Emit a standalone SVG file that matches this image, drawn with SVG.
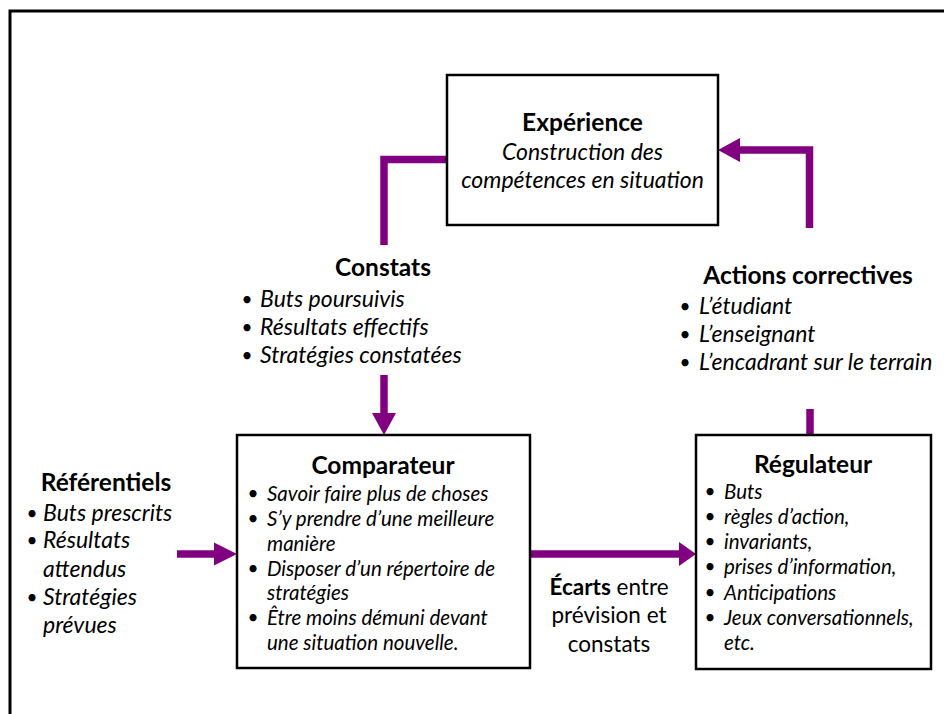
<svg xmlns="http://www.w3.org/2000/svg" width="944" height="714" viewBox="0 0 944 714">
<defs>
<style>
text{font-family:Lato,"Liberation Sans",sans-serif;fill:#000}
.t{font-weight:bold;font-size:24.5px;text-anchor:middle}
.i{font-style:italic;font-size:23px}
.s{font-style:italic;font-size:20.5px}
.b{font-size:19px;text-anchor:middle}
.r{font-size:22.5px;text-anchor:middle}
.box{fill:#fff;stroke:#000;stroke-width:2.5}
.c{fill:none;stroke:#800080;stroke-width:7.5}
.h{fill:#800080;stroke:none}
</style>
</defs>
<rect width="944" height="714" fill="#fff"/>
<path d="M10,714 V11 H944" fill="none" stroke="#000" stroke-width="3"/>

<g id="connectors">
<polyline class="c" points="447,159.5 384,159.5 384,245"/>
<line class="c" x1="384" y1="375" x2="384" y2="414"/>
<polygon class="h" points="372,413 396,413 384,435"/>
<line class="c" x1="177" y1="554" x2="215" y2="554"/>
<polygon class="h" points="214,542.5 214,565.5 237,554"/>
<line class="c" x1="530" y1="554" x2="680" y2="554"/>
<polygon class="h" points="679,542 679,566 696,554"/>
<line class="c" x1="810" y1="435" x2="810" y2="409"/>
<polyline class="c" points="809.5,228 809.5,150 739,150"/>
<polygon class="h" points="740,138 740,162 718,150"/>
</g>

<g id="experience">
<rect class="box" x="447" y="75" width="271" height="150"/>
<text class="t" x="582.5" y="131">Expérience</text>
<text class="i" x="582.5" y="160" text-anchor="middle">Construction des</text>
<text class="i" x="582.5" y="188" text-anchor="middle">compétences en situation</text>
</g>

<g id="constats">
<text class="t" x="383" y="276">Constats</text>
<text class="b" x="247" y="306">•</text><text class="i" x="260" y="307">Buts poursuivis</text>
<text class="b" x="247" y="334">•</text><text class="i" x="260" y="335">Résultats effectifs</text>
<text class="b" x="247" y="362">•</text><text class="i" x="260" y="363">Stratégies constatées</text>
</g>

<g id="actions">
<text class="t" x="808" y="284">Actions correctives</text>
<text class="b" x="685" y="313">•</text><text class="i" x="699" y="314">L’étudiant</text>
<text class="b" x="685" y="341">•</text><text class="i" x="699" y="342">L’enseignant</text>
<text class="b" x="685" y="369">•</text><text class="i" x="699" y="370">L’encadrant sur le terrain</text>
</g>

<g id="referentiels">
<text class="t" x="106" y="491">Référentiels</text>
<text class="b" x="32" y="520">•</text><text class="i" x="43" y="521">Buts prescrits</text>
<text class="b" x="32" y="547">•</text><text class="i" x="43" y="548">Résultats</text>
<text class="i" x="43" y="577">attendus</text>
<text class="b" x="32" y="604">•</text><text class="i" x="43" y="605">Stratégies</text>
<text class="i" x="43" y="633">prévues</text>
</g>

<g id="comparateur">
<rect class="box" x="237" y="435" width="293" height="233"/>
<text class="t" x="383" y="474">Comparateur</text>
<text class="b" x="253" y="500">•</text><text class="s" x="267" y="501">Savoir faire plus de choses</text>
<text class="b" x="253" y="525">•</text><text class="s" x="267" y="526">S’y prendre d’une meilleure</text>
<text class="s" x="267" y="551">manière</text>
<text class="b" x="253" y="575">•</text><text class="s" x="267" y="576">Disposer d’un répertoire de</text>
<text class="s" x="267" y="600">stratégies</text>
<text class="b" x="253" y="624">•</text><text class="s" x="267" y="625">Être moins démuni devant</text>
<text class="s" x="267" y="650">une situation nouvelle.</text>
</g>

<g id="regulateur">
<rect class="box" x="696" y="435" width="235" height="234"/>
<text class="t" x="813" y="473">Régulateur</text>
<text class="b" x="710" y="498">•</text><text class="s" x="724" y="499">Buts</text>
<text class="b" x="710" y="523">•</text><text class="s" x="724" y="524">règles d’action,</text>
<text class="b" x="710" y="548">•</text><text class="s" x="724" y="549">invariants,</text>
<text class="b" x="710" y="573">•</text><text class="s" x="724" y="574">prises d’information,</text>
<text class="b" x="710" y="599">•</text><text class="s" x="724" y="600">Anticipations</text>
<text class="b" x="710" y="624">•</text><text class="s" x="724" y="625">Jeux conversationnels,</text>
<text class="s" x="724" y="650">etc.</text>
</g>

<g id="ecarts">
<text class="r" x="609" y="595"><tspan font-weight="bold">Écarts</tspan> entre</text>
<text class="r" x="609" y="623">prévision et</text>
<text class="r" x="609" y="652">constats</text>
</g>
</svg>
